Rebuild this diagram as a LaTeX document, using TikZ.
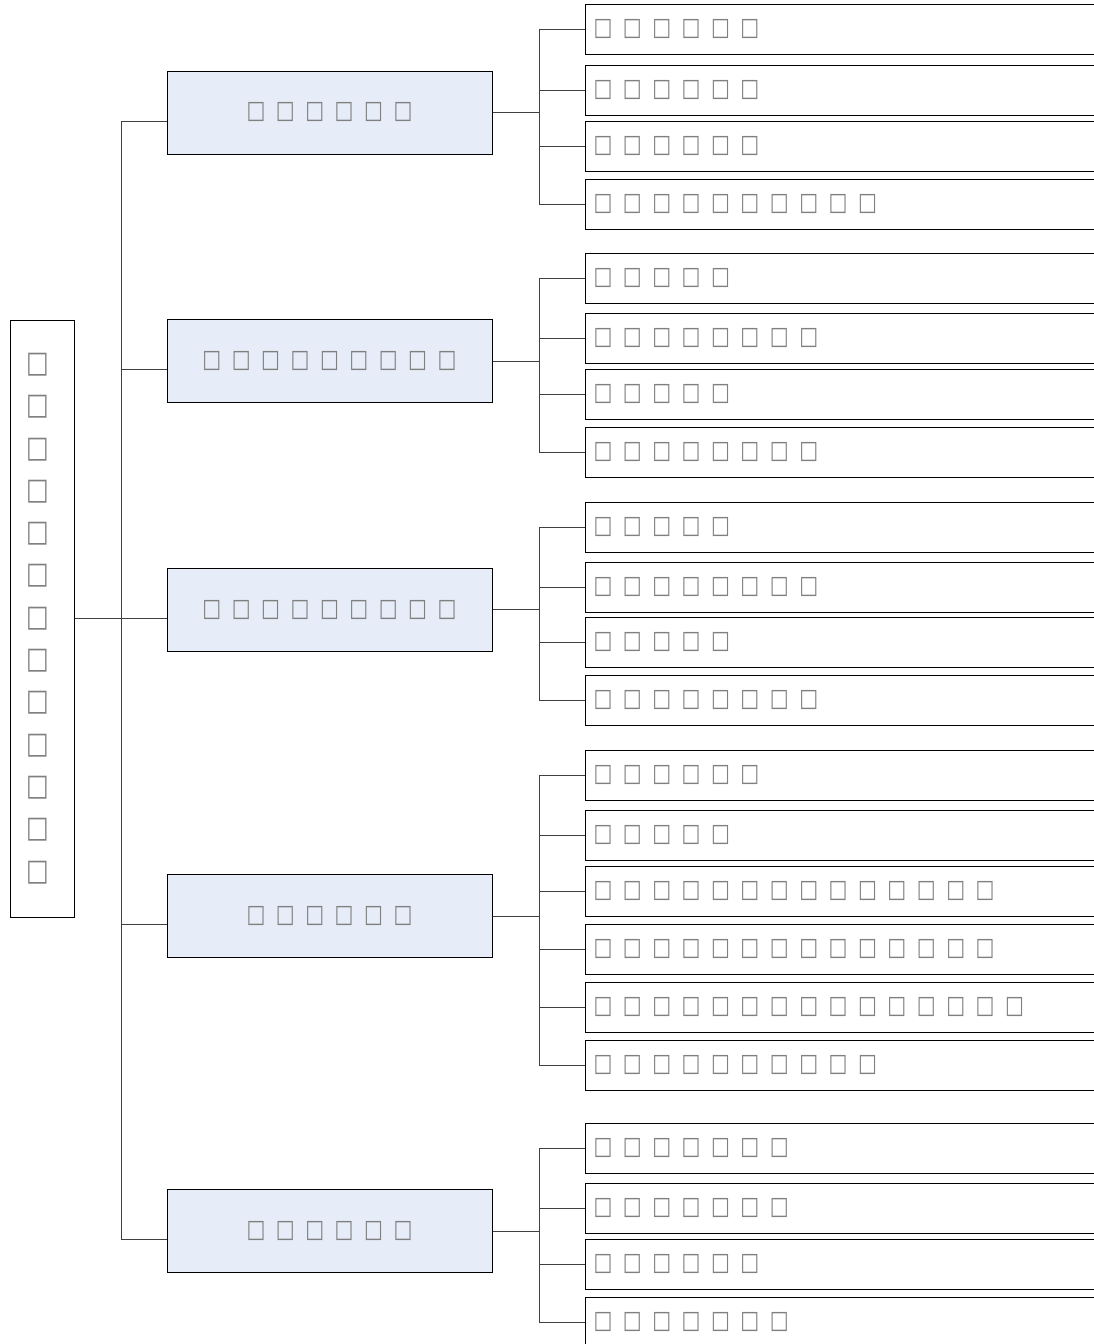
\documentclass[tikz,border=0pt]{standalone}
\usepackage{fontspec}
\newfontfamily\boxfont[FakeStretch=0.8]{DejaVu Sans}
\definecolor{groupfill}{HTML}{E6EDF8}
\definecolor{glyphgray}{HTML}{808080}
\definecolor{linkgray}{HTML}{404040}
\newcommand\rowfont{\boxfont\fontsize{25}{42}\selectfont\spaceskip=10.5pt plus 0pt minus 0pt\relax}
\newcommand\stackfont{\boxfont\fontsize{30}{42.3}\selectfont}
\tikzset{
  rootbox/.style={draw, line width=1pt, minimum width=64pt, minimum height=597pt,
    inner xsep=0pt, inner ysep=0pt, text width=30pt, align=left,
    text=glyphgray, font=\stackfont},
  groupbox/.style={draw, line width=1pt, fill=groupfill, minimum width=325pt,
    minimum height=83pt, inner sep=0pt, text=glyphgray, font=\rowfont},
  leafbox/.style={draw, line width=1pt, anchor=west, minimum height=50pt,
    text width=580pt, inner xsep=8pt, inner ysep=0pt, align=flush left,
    text=glyphgray, font=\rowfont},
  link/.style={draw=linkgray, line width=1pt}
}
\begin{document}
\begin{tikzpicture}[x=1pt,y=-1pt]
  \useasboundingbox (0,0) rectangle (1094,1344);
  \clip (0,0) rectangle (1094,1344);
  % root
  \node[rootbox] (root) at (42,618.5) {□\\□\\□\\□\\□\\□\\□\\□\\□\\□\\□\\□\\□};
  % second level
  \node[groupbox] (g1) at (329.5,112.5) {□ □ □ □ □ □};
  \node[groupbox] (g2) at (329.5,361) {□ □ □ □ □ □ □ □ □};
  \node[groupbox] (g3) at (329.5,609.5) {□ □ □ □ □ □ □ □ □};
  \node[groupbox] (g4) at (329.5,916) {□ □ □ □ □ □};
  \node[groupbox] (g5) at (329.5,1231) {□ □ □ □ □ □};
  % leaves
  \node[leafbox] (l11) at (585,29.5) {□ □ □ □ □ □};
  \node[leafbox] (l12) at (585,90) {□ □ □ □ □ □};
  \node[leafbox] (l13) at (585,146) {□ □ □ □ □ □};
  \node[leafbox] (l14) at (585,204) {□ □ □ □ □ □ □ □ □ □};
  \node[leafbox] (l21) at (585,278) {□ □ □ □ □};
  \node[leafbox] (l22) at (585,338) {□ □ □ □ □ □ □ □};
  \node[leafbox] (l23) at (585,394) {□ □ □ □ □};
  \node[leafbox] (l24) at (585,452) {□ □ □ □ □ □ □ □};
  \node[leafbox] (l31) at (585,527) {□ □ □ □ □};
  \node[leafbox] (l32) at (585,587) {□ □ □ □ □ □ □ □};
  \node[leafbox] (l33) at (585,642) {□ □ □ □ □};
  \node[leafbox] (l34) at (585,700) {□ □ □ □ □ □ □ □};
  \node[leafbox] (l41) at (585,775) {□ □ □ □ □ □};
  \node[leafbox] (l42) at (585,835) {□ □ □ □ □};
  \node[leafbox] (l43) at (585,891) {□ □ □ □ □ □ □ □ □ □ □ □ □ □};
  \node[leafbox] (l44) at (585,949) {□ □ □ □ □ □ □ □ □ □ □ □ □ □};
  \node[leafbox] (l45) at (585,1007) {□ □ □ □ □ □ □ □ □ □ □ □ □ □ □};
  \node[leafbox] (l46) at (585,1065) {□ □ □ □ □ □ □ □ □ □};
  \node[leafbox] (l51) at (585,1148) {□ □ □ □ □ □ □};
  \node[leafbox] (l52) at (585,1208) {□ □ □ □ □ □ □};
  \node[leafbox] (l53) at (585,1264) {□ □ □ □ □ □};
  \node[leafbox] (l54) at (585,1322) {□ □ □ □ □ □ □};
  % connectors
  \foreach \g in {1,...,5}
    \draw[link] (root.east) -- ++(47,0) |- ([yshift=-8.5pt]g\g.west);
  \foreach \l in {11,12,13,14} \draw[link] (g1.east) -- ++(47,0) |- (l\l.west);
  \foreach \l in {21,22,23,24} \draw[link] (g2.east) -- ++(47,0) |- (l\l.west);
  \foreach \l in {31,32,33,34} \draw[link] (g3.east) -- ++(47,0) |- (l\l.west);
  \foreach \l in {41,...,46} \draw[link] (g4.east) -- ++(47,0) |- (l\l.west);
  \foreach \l in {51,...,54} \draw[link] (g5.east) -- ++(47,0) |- (l\l.west);
\end{tikzpicture}
\end{document}
